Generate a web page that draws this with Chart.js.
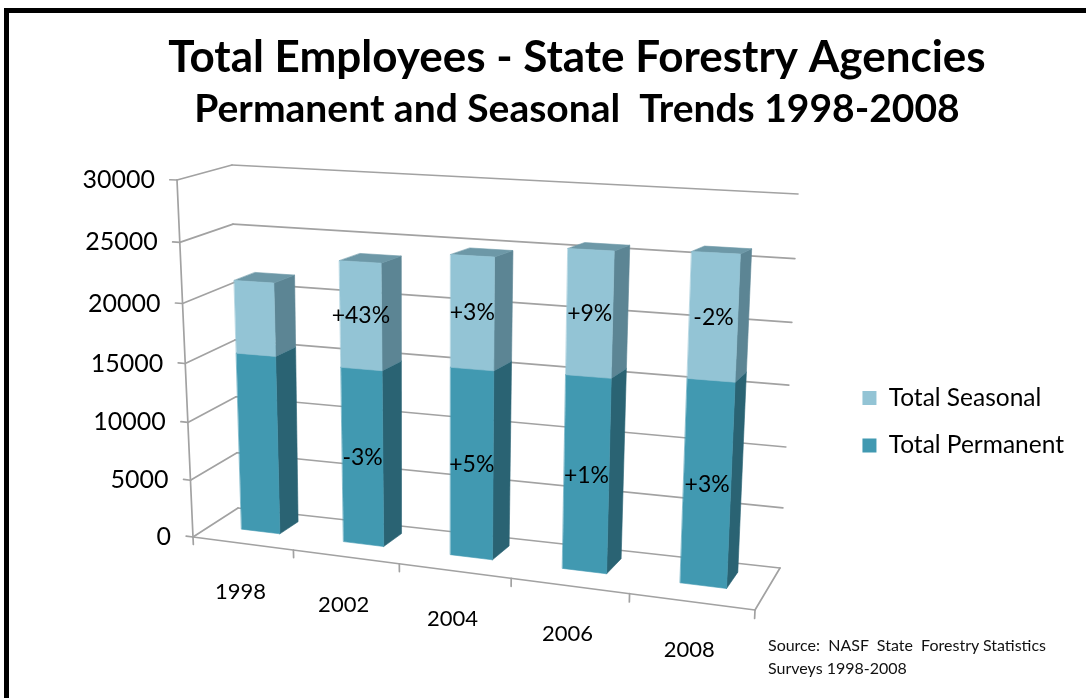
<!DOCTYPE html>
<html>
<head>
<meta charset="utf-8">
<title>Total Employees - State Forestry Agencies</title>
<script src="https://cdn.jsdelivr.net/npm/chart.js@4.4.0/dist/chart.umd.min.js"></script>
<style>
  html, body { margin: 0; padding: 0; background: #fff; overflow: hidden; }
  #frame { position: absolute; left: 4px; top: 8px; width: 1200px; height: 800px; border: 5px solid #000; box-sizing: border-box; }
  #chart { position: absolute; left: 0; top: 0; }
  #source { position: absolute; left: 768px; top: 633px; font: 16px Lato, sans-serif; line-height: 23px; color: #111; }
</style>
</head>
<body>
<div id="frame"></div>
<canvas id="chart" width="1154" height="698"></canvas>
<div id="source">Source:&nbsp; NASF&nbsp; State&nbsp; Forestry Statistics<br>Surveys 1998-2008</div>
<script>
// --- data ---
const years = ["1998", "2002", "2004", "2006", "2008"];
const permanent = [15300, 14840, 15580, 15740, 16210];
const seasonal = [6100, 8720, 8980, 9790, 9590];
const yMax = 30000;
const yStep = 5000;

// --- look ---
const FONT = "Lato, sans-serif";
const permanentShade = { front: "#4199b1", side: "#2a6373", top: "#3a8196" };
const seasonalShade = { front: "#93c4d5", side: "#5c8594", top: "#6d98a7" };
const gridColor = "#a2a2a2";

// 3-D box of the plot: front and back planes, corners listed
// bottom-left, bottom-right, top-right, top-left
const frontPlane = [[193, 537], [755, 610], [774, 201], [177, 180]];
const backPlane = [[238, 508], [780, 568], [798, 194], [232, 165]];
const barDepth = [0.40, 0.80];

// unit square -> quad (projective)
function quadMap(q) {
  const [x0, y0] = q[0], [x1, y1] = q[1], [x2, y2] = q[2], [x3, y3] = q[3];
  const dx1 = x1 - x2, dx2 = x3 - x2, dy1 = y1 - y2, dy2 = y3 - y2;
  const sx = x0 - x1 + x2 - x3, sy = y0 - y1 + y2 - y3;
  let g = 0, h = 0;
  if (sx !== 0 || sy !== 0) {
    const den = dx1 * dy2 - dx2 * dy1;
    g = (sx * dy2 - dx2 * sy) / den;
    h = (dx1 * sy - sx * dy1) / den;
  }
  const a = x1 - x0 + g * x1, b = x3 - x0 + h * x3, c = x0;
  const d = y1 - y0 + g * y1, e = y3 - y0 + h * y3, f = y0;
  return (u, v) => {
    const w = g * u + h * v + 1;
    return [(a * u + b * v + c) / w, (d * u + e * v + f) / w];
  };
}

function strokeLine(ctx, a, b) {
  ctx.beginPath();
  ctx.moveTo(a[0], a[1]);
  ctx.lineTo(b[0], b[1]);
  ctx.stroke();
}
function fillPoly(ctx, pts, color) {
  ctx.beginPath();
  pts.forEach((p, i) => i ? ctx.lineTo(p[0], p[1]) : ctx.moveTo(p[0], p[1]));
  ctx.closePath();
  ctx.fillStyle = color;
  ctx.fill();
  ctx.strokeStyle = color;
  ctx.lineWidth = 0.6;
  ctx.stroke();
}
const pctLabel = (cur, prev) => {
  const p = Math.round((cur - prev) / prev * 100);
  return (p > 0 ? "+" : "") + p + "%";
};

// draws walls, axes and the columns in perspective from the flat scale positions
const box3d = {
  id: "box3d",
  beforeDatasetsDraw(chart) {
    const { ctx, chartArea: ca, scales: { x, y } } = chart;
    const front = quadMap(frontPlane), back = quadMap(backPlane);
    const P = (u, v, z) => {
      const a = front(u, v), b = back(u, v);
      return [a[0] + (b[0] - a[0]) * z, a[1] + (b[1] - a[1]) * z];
    };
    const U = px => (px - ca.left) / ca.width;
    const V = py => (ca.bottom - py) / ca.height;

    ctx.save();
    ctx.lineCap = "round";
    ctx.strokeStyle = gridColor;
    ctx.lineWidth = 1.7;

    // side wall + back wall grid
    y.ticks.forEach(t => {
      const v = V(y.getPixelForValue(t.value));
      strokeLine(ctx, P(0, v, 0), P(0, v, 1));
      strokeLine(ctx, P(0, v, 1), P(1, v, 1));
      strokeLine(ctx, P(-0.014, v, 0), P(0, v, 0));
    });
    // floor edges and value axis
    strokeLine(ctx, P(0, 0, 0), P(1, 0, 0));
    strokeLine(ctx, P(1, 0, 0), P(1, 0, 1));
    strokeLine(ctx, P(0, 0, 0), P(0, 1, 0));
    // category tick marks at the category boundaries
    const n = years.length;
    for (let i = 0; i <= n; i++) {
      const px = i === 0 ? ca.left : i === n ? ca.right
        : (x.getPixelForValue(i - 1) + x.getPixelForValue(i)) / 2;
      const u = U(px);
      strokeLine(ctx, P(u, 0, 0), P(u, -0.022, 0));
    }

    // axis labels
    ctx.fillStyle = "#000";
    ctx.font = "25px " + FONT;
    ctx.textAlign = "right";
    ctx.textBaseline = "middle";
    y.ticks.forEach(t => {
      const p = P(0, V(y.getPixelForValue(t.value)), 0);
      ctx.fillText(t.label, p[0] - 22, p[1]);
    });
    ctx.font = "22px " + FONT;
    ctx.textAlign = "center";
    years.forEach((lab, i) => {
      const p = P(U(x.getPixelForValue(i)), 0, 0);
      ctx.fillText(lab, p[0] - 2, p[1] + 48);
    });

    // columns, left to right, bottom segment first
    const shades = [permanentShade, seasonalShade];
    const [z0, z1] = barDepth;
    const labels = [];
    for (let i = 0; i < n; i++) {
      chart.data.datasets.forEach((ds, di) => {
        const el = chart.getDatasetMeta(di).data[i];
        const { x: bx, y: by, base, width } = el.getProps(["x", "y", "base", "width"], true);
        const u0 = U(bx - width / 2), u1 = U(bx + width / 2);
        const v0 = V(base), v1 = V(by);
        const s = shades[di];
        fillPoly(ctx, [P(u1, v0, z0), P(u1, v0, z1), P(u1, v1, z1), P(u1, v1, z0)], s.side);
        fillPoly(ctx, [P(u0, v1, z0), P(u1, v1, z0), P(u1, v1, z1), P(u0, v1, z1)], s.top);
        fillPoly(ctx, [P(u0, v0, z0), P(u1, v0, z0), P(u1, v1, z0), P(u0, v1, z0)], s.front);
        if (i > 0) {
          const vals = ds.data;
          labels.push({ text: pctLabel(vals[i], vals[i - 1]), at: P((u0 + u1) / 2, (v0 + v1) / 2, z0) });
        }
      });
    }

    // percent change labels on the front faces
    ctx.fillStyle = "#000";
    ctx.font = "23px " + FONT;
    ctx.textAlign = "center";
    ctx.textBaseline = "middle";
    labels.forEach(l => ctx.fillText(l.text, l.at[0], l.at[1]));

    ctx.restore();
    return false;
  }
};

new Chart(document.getElementById("chart"), {
  type: "bar",
  data: {
    labels: years,
    datasets: [
      { label: "Total Permanent", data: permanent, backgroundColor: permanentShade.front },
      { label: "Total Seasonal", data: seasonal, backgroundColor: seasonalShade.front }
    ]
  },
  options: {
    responsive: false,
    animation: false,
    devicePixelRatio: 1,
    layout: { padding: { top: 0, right: 80, bottom: 15, left: 80 } },
    datasets: { bar: { barPercentage: 0.475, categoryPercentage: 0.8 } },
    scales: {
      x: { stacked: true, display: false },
      y: {
        stacked: true, display: false, min: 0, max: yMax,
        ticks: { stepSize: yStep, callback: v => String(v) }
      }
    },
    plugins: {
      title: {
        display: true,
        text: "Total Employees - State Forestry Agencies",
        color: "#000",
        font: { family: FONT, size: 44, weight: "bold" },
        padding: { top: 31, bottom: 2 }
      },
      subtitle: {
        display: true,
        text: "Permanent and Seasonal  Trends 1998-2008",
        color: "#000",
        font: { family: FONT, size: 39, weight: "bold" },
        padding: { top: 0, bottom: 28 }
      },
      legend: {
        position: "right",
        fullSize: false,
        reverse: true,
        labels: {
          color: "#000",
          font: { family: FONT, size: 24.5 },
          boxWidth: 14,
          boxHeight: 14,
          padding: 23
        }
      },
      tooltip: { enabled: false }
    }
  },
  plugins: [box3d]
});
</script>
</body>
</html>
